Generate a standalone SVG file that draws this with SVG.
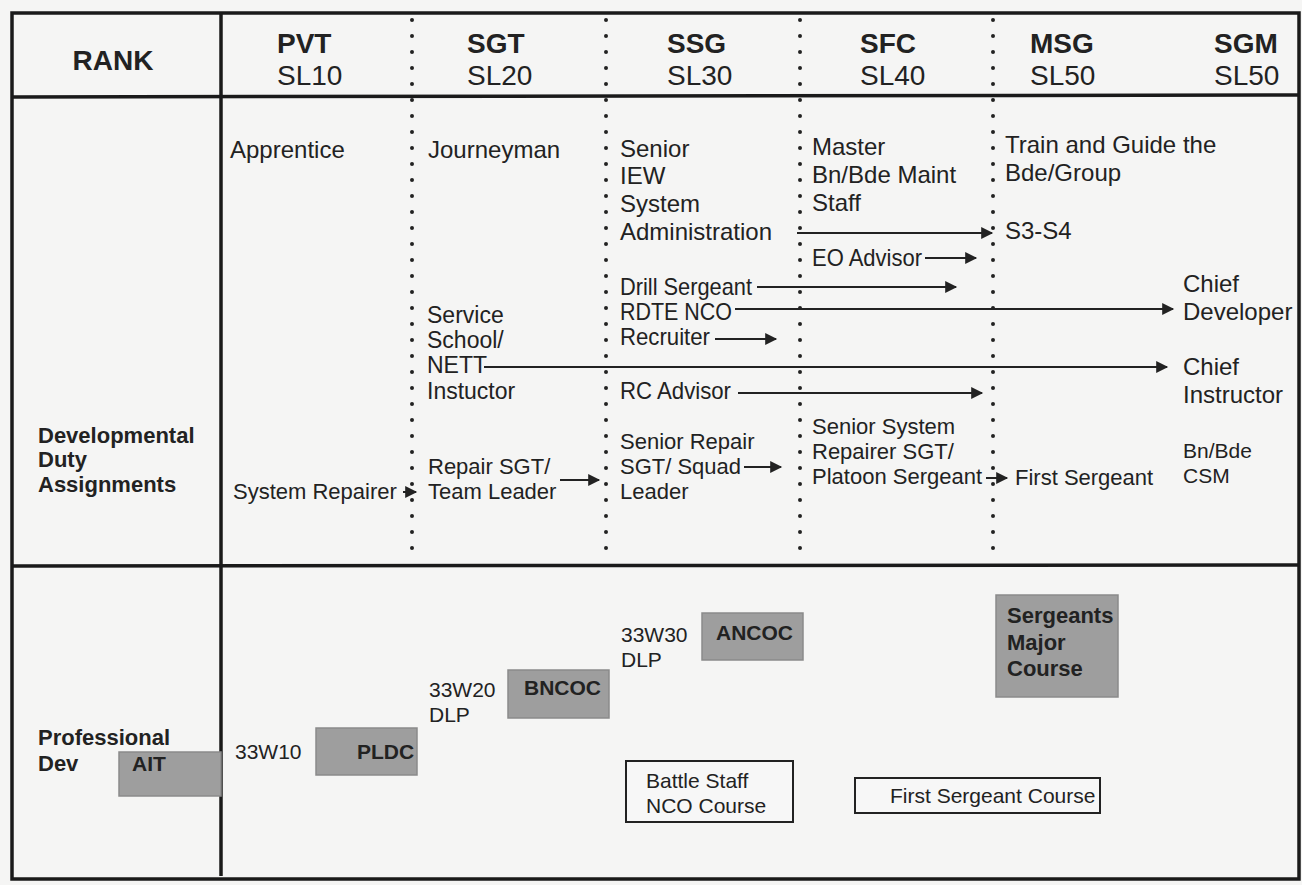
<svg xmlns="http://www.w3.org/2000/svg" width="1302" height="885" viewBox="0 0 1302 885">
<defs>
<style>
.t{font-family:"Liberation Sans",Arial,sans-serif;fill:#222}
.h{font-size:28px}
.hb{font-size:28px;font-weight:bold}
.b{font-size:24px}
.b2{font-size:23px}
.s{font-size:22px}
.xs{font-size:21px}
.lb{font-size:22px;font-weight:bold}
.bb{font-size:21px;font-weight:bold}
.frame{stroke:#1a1a1a;stroke-width:3.5;fill:none}
.dots{stroke:#222;stroke-width:4;stroke-linecap:round;stroke-dasharray:0 16;fill:none}
.arr{stroke:#222;stroke-width:2;fill:none;marker-end:url(#ah)}
.gray{fill:#9e9e9e;stroke:#8a8a8a;stroke-width:1.5}
.wbox{fill:#f7f7f7;stroke:#222;stroke-width:2}
</style>
<marker id="ah" viewBox="0 0 10 10" refX="9" refY="5" markerUnits="userSpaceOnUse" markerWidth="16" markerHeight="12" orient="auto">
<path d="M0,0 L10,5 L0,10 z" fill="#222"/>
</marker>
</defs>
<rect x="0" y="0" width="1302" height="885" fill="#f5f5f4"/>

<g id="grid">
<rect class="frame" x="12" y="13" width="1287" height="866"/>
<line class="frame" x1="221" y1="13" x2="221" y2="876"/>
<line class="frame" x1="12" y1="97" x2="1299" y2="95"/>
<line class="frame" x1="12" y1="566" x2="1299" y2="565"/>
<line class="dots" x1="412" y1="20" x2="412" y2="560"/>
<line class="dots" x1="606" y1="20" x2="606" y2="560"/>
<line class="dots" x1="800" y1="20" x2="800" y2="560"/>
<line class="dots" x1="993" y1="20" x2="993" y2="560"/>
</g>

<g id="header">
<text class="t hb" x="113" y="70" text-anchor="middle">RANK</text>
<text class="t hb" x="277" y="53">PVT</text>
<text class="t h" x="277" y="85">SL10</text>
<text class="t hb" x="467" y="53">SGT</text>
<text class="t h" x="467" y="85">SL20</text>
<text class="t hb" x="667" y="53">SSG</text>
<text class="t h" x="667" y="85">SL30</text>
<text class="t hb" x="860" y="53">SFC</text>
<text class="t h" x="860" y="85">SL40</text>
<text class="t hb" x="1030" y="53">MSG</text>
<text class="t h" x="1030" y="85">SL50</text>
<text class="t hb" x="1214" y="53">SGM</text>
<text class="t h" x="1214" y="85">SL50</text>
</g>

<g id="row-labels">
<text class="t lb" x="38" y="443">Developmental</text>
<text class="t lb" x="38" y="467">Duty</text>
<text class="t lb" x="38" y="492">Assignments</text>
<text class="t lb" x="38" y="745">Professional</text>
<text class="t lb" x="38" y="771">Dev</text>
</g>

<g id="n-apprentice"><text class="t b" x="230" y="158">Apprentice</text></g>
<g id="n-journeyman"><text class="t b" x="428" y="158">Journeyman</text></g>
<g id="n-senior-iew">
<text class="t b" x="620" y="157">Senior</text>
<text class="t b" x="620" y="184">IEW</text>
<text class="t b" x="620" y="212">System</text>
<text class="t b" x="620" y="240">Administration</text>
</g>
<g id="n-master">
<text class="t b" x="812" y="155">Master</text>
<text class="t b" x="812" y="183">Bn/Bde Maint</text>
<text class="t b" x="812" y="211">Staff</text>
</g>
<g id="n-train">
<text class="t b" x="1005" y="153">Train and Guide the</text>
<text class="t b" x="1005" y="181">Bde/Group</text>
</g>
<g id="n-s3s4"><text class="t b" x="1005" y="239">S3-S4</text></g>
<g id="n-eo"><text class="t b" x="812" y="266" textLength="110" lengthAdjust="spacingAndGlyphs">EO Advisor</text></g>
<g id="n-drill"><text class="t b" x="620" y="295" textLength="132" lengthAdjust="spacingAndGlyphs">Drill Sergeant</text></g>
<g id="n-rdte"><text class="t b" x="620" y="320" textLength="112" lengthAdjust="spacingAndGlyphs">RDTE NCO</text></g>
<g id="n-recruiter"><text class="t b" x="620" y="345" textLength="90" lengthAdjust="spacingAndGlyphs">Recruiter</text></g>
<g id="n-rc"><text class="t b" x="620" y="399" textLength="111" lengthAdjust="spacingAndGlyphs">RC Advisor</text></g>
<g id="n-chief-dev">
<text class="t b" x="1183" y="292">Chief</text>
<text class="t b" x="1183" y="320">Developer</text>
</g>
<g id="n-service">
<text class="t b2" x="427" y="323">Service</text>
<text class="t b2" x="427" y="348">School/</text>
<text class="t b2" x="427" y="373">NETT</text>
<text class="t b2" x="427" y="399">Instuctor</text>
</g>
<g id="n-chief-ins">
<text class="t b" x="1183" y="375">Chief</text>
<text class="t b" x="1183" y="403">Instructor</text>
</g>
<g id="n-sysrep"><text class="t s" x="233" y="499">System Repairer</text></g>
<g id="n-repsgt">
<text class="t s" x="428" y="474">Repair SGT/</text>
<text class="t s" x="428" y="499">Team Leader</text>
</g>
<g id="n-senrep">
<text class="t s" x="620" y="449">Senior Repair</text>
<text class="t s" x="620" y="474">SGT/ Squad</text>
<text class="t s" x="620" y="499">Leader</text>
</g>
<g id="n-sensys">
<text class="t s" x="812" y="434">Senior System</text>
<text class="t s" x="812" y="459">Repairer SGT/</text>
<text class="t s" x="812" y="484">Platoon Sergeant</text>
</g>
<g id="n-firstsgt"><text class="t s" x="1015" y="485">First Sergeant</text></g>
<g id="n-csm">
<text class="t xs" x="1183" y="458">Bn/Bde</text>
<text class="t xs" x="1183" y="483">CSM</text>
</g>

<g id="connectors">
<line class="arr" x1="797" y1="233" x2="992" y2="233"/>
<line class="arr" x1="925" y1="258" x2="976" y2="258"/>
<line class="arr" x1="757" y1="287" x2="956" y2="287"/>
<line class="arr" x1="735" y1="309" x2="1173" y2="309"/>
<line class="arr" x1="715" y1="339" x2="776" y2="339"/>
<line class="arr" x1="484" y1="367" x2="1167" y2="367"/>
<line class="arr" x1="738" y1="393" x2="982" y2="393"/>
<line class="arr" x1="403" y1="492" x2="416" y2="492"/>
<line class="arr" x1="560" y1="480" x2="599" y2="480"/>
<line class="arr" x1="744" y1="467" x2="781" y2="467"/>
<line class="arr" x1="986" y1="478" x2="1007" y2="478"/>
</g>

<g id="n-ait">
<rect class="gray" x="119" y="752" width="102" height="44"/>
<text class="t bb" x="132" y="771">AIT</text>
</g>
<g id="n-33w10"><text class="t xs" x="235" y="759">33W10</text></g>
<g id="n-pldc">
<rect class="gray" x="316" y="728" width="101" height="47"/>
<text class="t bb" x="357" y="759">PLDC</text>
</g>
<g id="n-33w20">
<text class="t xs" x="429" y="697">33W20</text>
<text class="t xs" x="429" y="722">DLP</text>
</g>
<g id="n-bncoc">
<rect class="gray" x="508" y="670" width="101" height="48"/>
<text class="t bb" x="524" y="695">BNCOC</text>
</g>
<g id="n-33w30">
<text class="t xs" x="621" y="642">33W30</text>
<text class="t xs" x="621" y="667">DLP</text>
</g>
<g id="n-ancoc">
<rect class="gray" x="702" y="613" width="101" height="47"/>
<text class="t bb" x="716" y="640">ANCOC</text>
</g>
<g id="n-smc">
<rect class="gray" x="996" y="595" width="122" height="102"/>
<text class="t lb" x="1007" y="623">Sergeants</text>
<text class="t lb" x="1007" y="650">Major</text>
<text class="t lb" x="1007" y="676">Course</text>
</g>
<g id="n-bsnco">
<rect class="wbox" x="626" y="761" width="167" height="61"/>
<text class="t xs" x="646" y="788">Battle Staff</text>
<text class="t xs" x="646" y="813">NCO Course</text>
</g>
<g id="n-fsc">
<rect class="wbox" x="855" y="778" width="245" height="35"/>
<text class="t xs" x="890" y="803">First Sergeant Course</text>
</g>
</svg>
